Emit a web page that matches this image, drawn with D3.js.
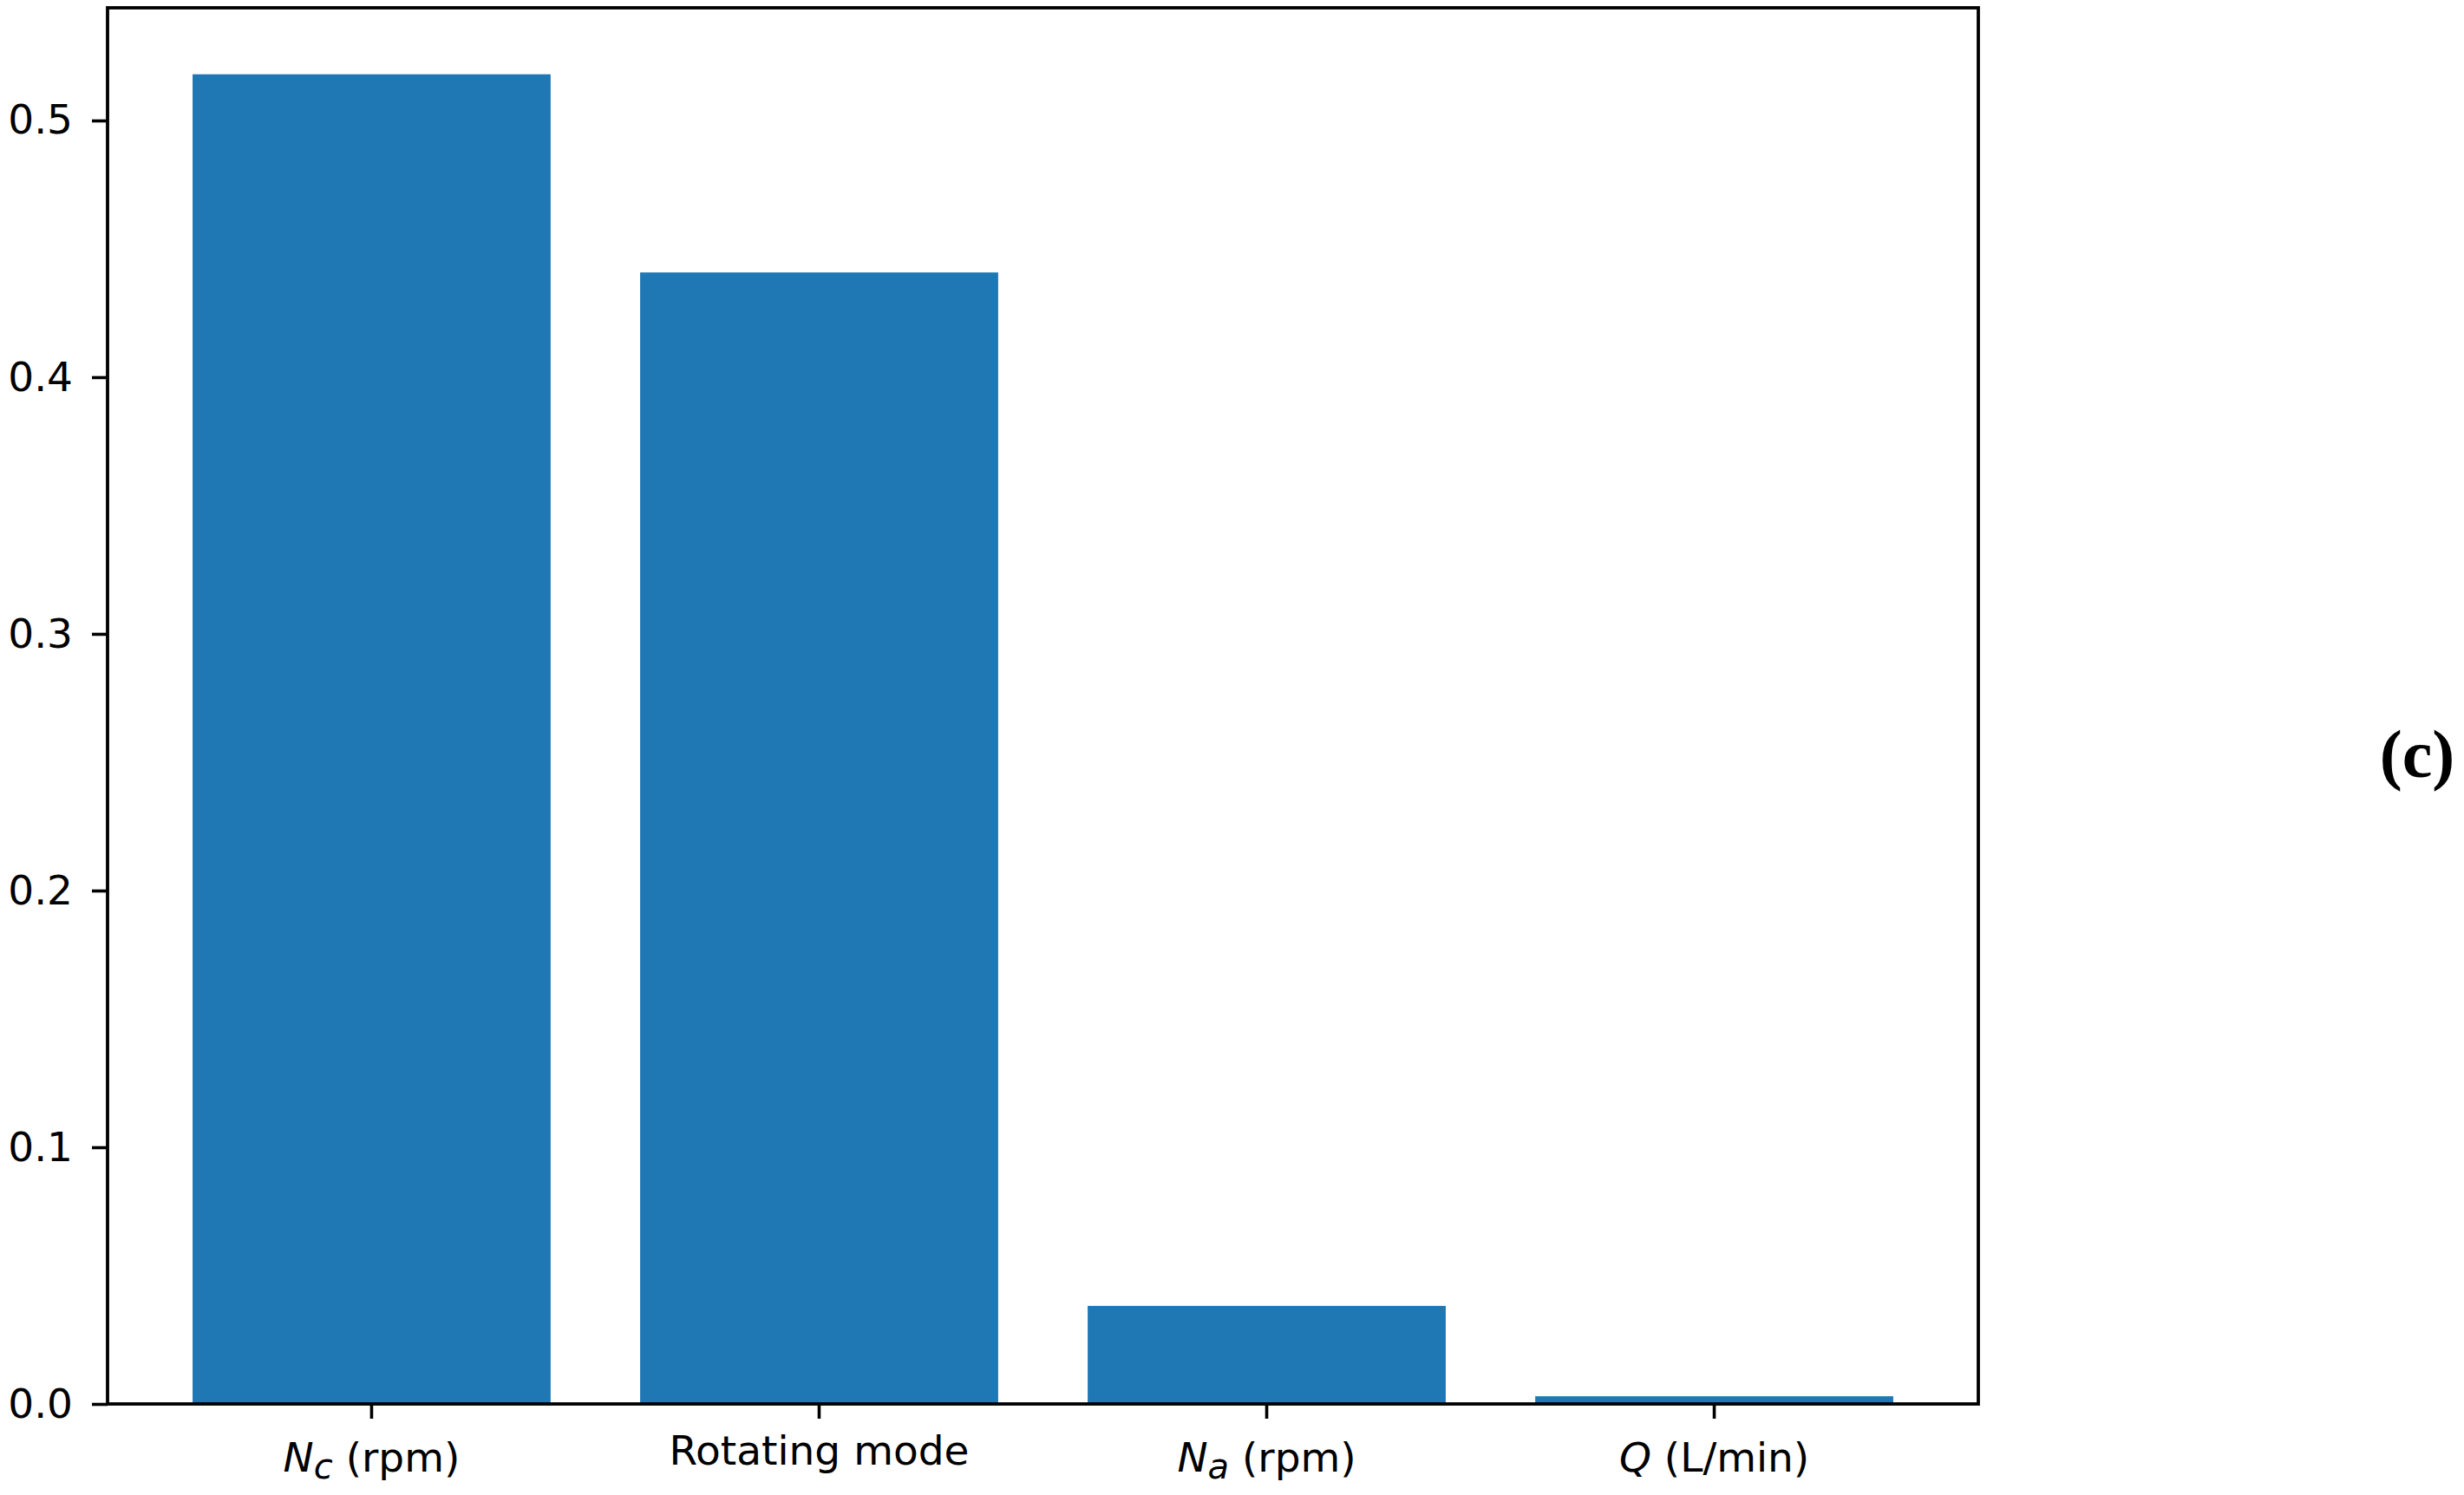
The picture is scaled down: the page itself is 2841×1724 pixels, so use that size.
<!DOCTYPE html>
<html>
<head>
<meta charset="utf-8">
<script src="https://cdn.jsdelivr.net/npm/d3@7"></script>
<style>
  body { margin: 0; background: #fff; }
  svg { display: block; }
  .tick text { font-family: "DejaVu Sans", sans-serif; font-size: 47px; fill: #000; }
</style>
</head>
<body>
<div id="vis"><svg></svg></div>
<script>
// feature names (label parts: [main, subscript, rest, italic main?])
const categories = ["Nc", "Rotating mode", "Na", "Q"];
const labelMain = ["N", "Rotating mode", "N", "Q"];
const labelSub = ["c", "", "a", ""];
const labelRest = [" (rpm)", "", " (rpm)", " (L/min)"];
const labelItalic = [true, false, true, true];
const importance = [0.5180, 0.4408, 0.0382, 0.0030];
const yTicks = [0.0, 0.1, 0.2, 0.3, 0.4, 0.5];

const W = 2841, H = 1724;
const margin = {top: 9, right: 560, bottom: 105, left: 124};
const width = W - margin.left - margin.right,
      height = H - margin.top - margin.bottom;

const svg = d3.select("#vis").select("svg")
  .attr("width", W)
  .attr("height", H);

const g = svg.append("g")
  .attr("transform", "translate(" + margin.left + "," + margin.top + ")");

// matplotlib style: width 0.8 bars, 5% margins on both axes
const x = d3.scaleBand()
  .domain(categories)
  .range([0, width])
  .paddingInner(0.2)
  .paddingOuter(0.19);

const y = d3.scaleLinear()
  .domain([0, d3.max(importance) * 1.05])
  .range([height, 0]);

g.selectAll("rect.bar")
  .data(categories)
  .join("rect")
  .attr("class", "bar")
  .attr("x", d => x(d))
  .attr("width", x.bandwidth())
  .attr("y", (d, i) => y(importance[i]))
  .attr("height", (d, i) => y(0) - y(importance[i]))
  .attr("fill", "#1f77b4");

// y axis
const yAxisG = g.append("g")
  .call(d3.axisLeft(y).tickValues(yTicks).tickFormat(d3.format(".1f")).tickSize(18).tickPadding(22));
yAxisG.select(".domain").remove();
yAxisG.selectAll(".tick line").attr("stroke", "#000").attr("stroke-width", 3.6);

// x axis
const xAxisG = g.append("g")
  .attr("transform", `translate(0, ${height})`)
  .call(d3.axisBottom(x).tickSize(17).tickPadding(20));
xAxisG.select(".domain").remove();
xAxisG.selectAll(".tick line").attr("stroke", "#000").attr("stroke-width", 3.6);

// math-style labels sit a little lower than plain ones
xAxisG.selectAll(".tick text").each(function(d) {
  const i = categories.indexOf(d);
  const t = d3.select(this).text(null);
  if (labelItalic[i]) t.attr("y", 45);
  t.append("tspan")
    .attr("font-style", labelItalic[i] ? "italic" : "normal")
    .text(labelMain[i]);
  if (labelSub[i]) {
    t.append("tspan")
      .attr("font-style", "italic")
      .attr("font-size", "40px")
      .attr("dy", 8)
      .text(labelSub[i]);
    t.append("tspan").attr("dy", -8).text(labelRest[i]);
  } else if (labelRest[i]) {
    t.append("tspan").text(labelRest[i]);
  }
});

// frame
g.append("rect")
  .attr("x", 0)
  .attr("y", 0)
  .attr("width", width)
  .attr("height", height)
  .attr("fill", "none")
  .attr("stroke", "#000")
  .attr("stroke-width", 3.8);

// panel label
svg.append("text")
  .attr("x", 2787)
  .attr("y", 896)
  .attr("text-anchor", "middle")
  .attr("font-family", "Liberation Serif, serif")
  .attr("font-weight", "bold")
  .attr("font-size", 78)
  .text("(c)");
</script>
</body>
</html>
